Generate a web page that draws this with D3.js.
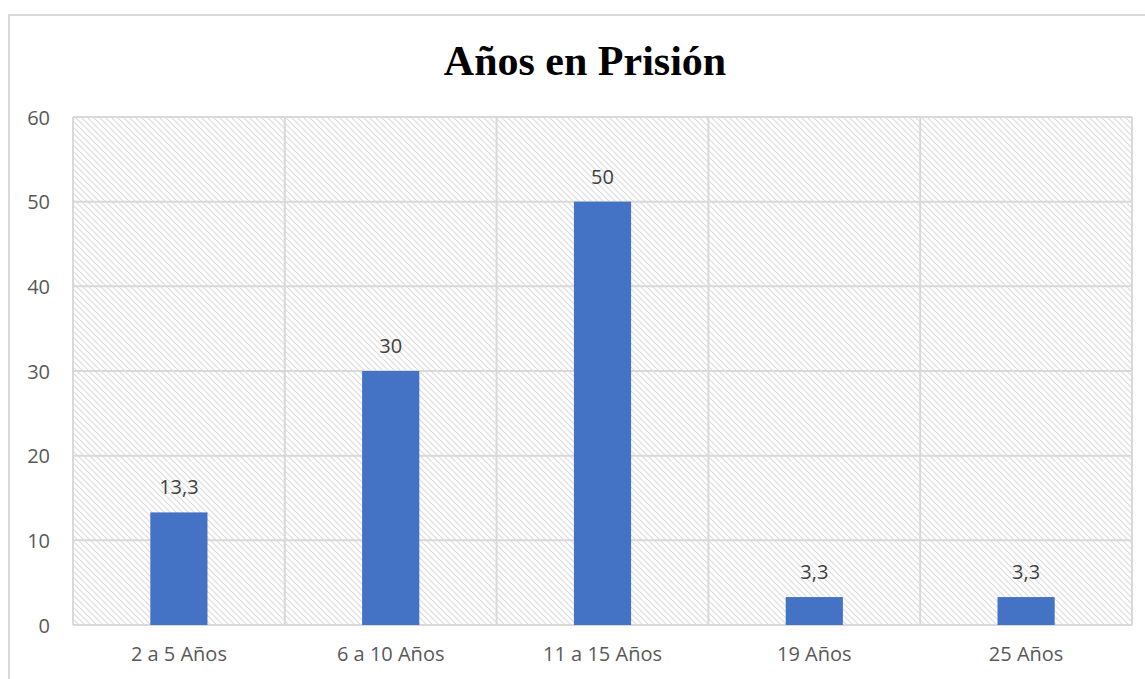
<!DOCTYPE html>
<html>
<head>
<meta charset="utf-8">
<script src="https://cdn.jsdelivr.net/npm/d3@7"></script>
<style>
  html, body { margin: 0; padding: 0; background: #fff; }
  svg { display: block; }
</style>
</head>
<body>
<svg id="chart" width="1145" height="679"></svg>
<script>
// Years in prison, percent of respondents
const categories = ["2 a 5 Años", "6 a 10 Años", "11 a 15 Años", "19 Años", "25 Años"];
const values = [13.3, 30, 50, 3.3, 3.3];
const valueLabels = ["13,3", "30", "50", "3,3", "3,3"];
const yTicks = [0, 10, 20, 30, 40, 50, 60];
const title = "Años en Prisión";

const svg = d3.select("#chart");
const W = 1145, H = 679;
const plot = { left: 73, top: 117, right: 1132, bottom: 625 };
const labelFont = "'Open Sans', Lato, sans-serif";
const labelSize = 20;

// outer chart frame
svg.append("rect")
  .attr("x", 9).attr("y", 15)
  .attr("width", W + 10).attr("height", H)
  .attr("fill", "#fff").attr("stroke", "#d9d9d9").attr("stroke-width", 2);

// diagonal hatch for the plot background
const defs = svg.append("defs");
const pat = defs.append("pattern")
  .attr("id", "hatch")
  .attr("patternUnits", "userSpaceOnUse")
  .attr("width", 6).attr("height", 6);
pat.append("rect").attr("width", 6).attr("height", 6).attr("fill", "#fff");
pat.append("path")
  .attr("d", "M-1,-1 L7,7 M-4,2 L2,8 M4,-2 L8,2")
  .attr("stroke", "#dcdcdc").attr("stroke-width", 1.1);

const x = d3.scaleBand()
  .domain(categories)
  .range([plot.left, plot.right])
  .paddingInner(0.73)
  .paddingOuter(0.365);

const y = d3.scaleLinear()
  .domain([0, 60])
  .range([plot.bottom, plot.top]);

svg.append("rect")
  .attr("x", plot.left).attr("y", plot.top)
  .attr("width", plot.right - plot.left).attr("height", plot.bottom - plot.top)
  .attr("fill", "url(#hatch)");

// horizontal gridlines
svg.append("g")
  .selectAll("line")
  .data(yTicks)
  .join("line")
  .attr("x1", plot.left).attr("x2", plot.right)
  .attr("y1", d => y(d)).attr("y2", d => y(d))
  .attr("stroke", "#d9d9d9").attr("stroke-width", 2);

// vertical gridlines at category boundaries
const step = x.step();
const bounds = d3.range(categories.length + 1).map(i => plot.left + i * step);
svg.append("g")
  .selectAll("line")
  .data(bounds)
  .join("line")
  .attr("x1", d => d).attr("x2", d => d)
  .attr("y1", plot.top).attr("y2", plot.bottom)
  .attr("stroke", "#d9d9d9").attr("stroke-width", 2);

// bars
svg.append("g")
  .selectAll("rect")
  .data(values)
  .join("rect")
  .attr("x", (d, i) => x(categories[i]))
  .attr("width", x.bandwidth())
  .attr("y", d => y(d))
  .attr("height", d => y(0) - y(d))
  .attr("fill", "#4472c4");

// value labels
svg.append("g")
  .selectAll("text")
  .data(values)
  .join("text")
  .attr("x", (d, i) => x(categories[i]) + x.bandwidth() / 2)
  .attr("y", d => y(d) - 18)
  .attr("text-anchor", "middle")
  .attr("font-family", labelFont)
  .attr("font-size", labelSize)
  .attr("fill", "#404040")
  .text((d, i) => valueLabels[i]);

// y axis
const yAxis = d3.axisLeft(y).tickValues(yTicks).tickSize(0).tickPadding(23);
const gy = svg.append("g").attr("transform", `translate(${plot.left},0)`).call(yAxis);
gy.select(".domain").remove();
gy.selectAll("text")
  .attr("font-family", labelFont)
  .attr("font-size", labelSize)
  .attr("fill", "#595959")
  .attr("dy", "0.35em");

// x axis
const xAxis = d3.axisBottom(x).tickSize(0).tickPadding(22);
const gx = svg.append("g").attr("transform", `translate(0,${plot.bottom})`).call(xAxis);
gx.select(".domain").remove();
gx.selectAll("text")
  .attr("font-family", labelFont)
  .attr("font-size", labelSize)
  .attr("fill", "#595959");

// title
svg.append("text")
  .attr("x", 585)
  .attr("y", 75)
  .attr("text-anchor", "middle")
  .attr("font-family", "'Liberation Serif', 'Times New Roman', serif")
  .attr("font-weight", "bold")
  .attr("font-size", 42)
  .attr("fill", "#000")
  .text(title);
</script>
</body>
</html>
